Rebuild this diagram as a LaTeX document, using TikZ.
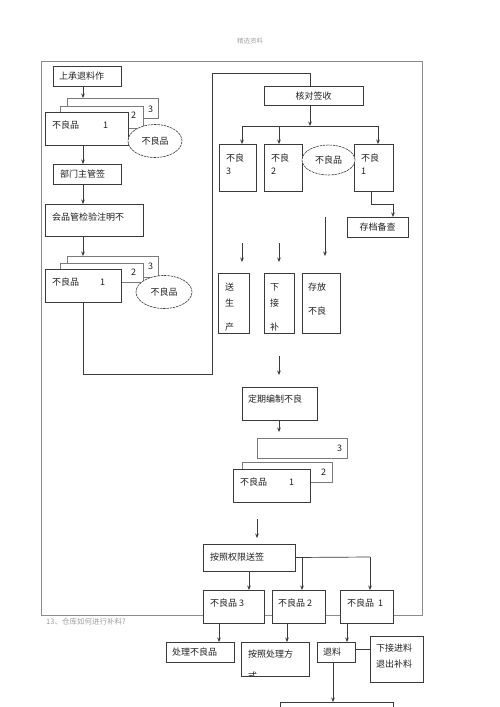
\documentclass[tikz,border=0pt]{standalone}
\usepackage{fontspec}
\newfontfamily\cjk{Noto Sans CJK SC}
\usetikzlibrary{arrows.meta,shapes.geometric}
\definecolor{ln}{HTML}{3A3A3A}
\definecolor{fr}{HTML}{8C8C8C}
\definecolor{lt}{HTML}{7A7A7A}
\definecolor{tx}{HTML}{202020}
\newcommand\bx[6][]{\node[box,#1,minimum width={(#5)-(#3)},minimum height={(#6)-(#4)}] (#2) at ({((#3)+(#5))/2},{((#4)+(#6))/2}) {};}
\tikzset{
  x=1pt,y=-1pt,
  box/.style={draw=ln,fill=white,line width=0.7pt,inner sep=0pt,outer sep=0pt,rectangle},
  backbox/.style={draw=lt,line width=0.6pt},
  oval/.style={ellipse,draw=ln,fill=white,line width=0.6pt,dash pattern=on 2.5pt off 0.8pt,inner sep=0pt,font=\cjk\fontsize{9}{11}\selectfont,text=tx},
  txt/.style={anchor=west,inner sep=0pt,font=\cjk\fontsize{9}{11}\selectfont,text=tx},
  conn/.style={draw=ln,line width=0.7pt},
  arr/.style={conn,-{Stealth[length=4.5pt,width=3.6pt]}},
  frame/.style={draw=fr,line width=0.8pt}
}
\begin{document}
\begin{tikzpicture}
\useasboundingbox (0,0) rectangle (500,707);
\fill[white] (0,0) rectangle (500,707);
% header
\node[inner sep=0pt,font=\cjk\fontsize{6.5}{8}\selectfont,text=gray!70] (hdr) at (250,41) {精选资料};
% outer frame
\draw[frame] (41,61) rectangle (422,615);
% named x positions
\coordinate (xL) at (83,0);
\coordinate (xR) at (310,0);
\coordinate (xa) at (242,0);
\coordinate (xb) at (279,0);
\coordinate (xc) at (378,0);
\coordinate (xF) at (393,0);
\coordinate (xd) at (249,0);
\coordinate (xe) at (302,0);
\coordinate (xg) at (219,0);
\coordinate (xh) at (287,0);
\coordinate (xi) at (347,0);
\coordinate (xj) at (333,0);
\coordinate (yk) at (0,649);
% ---------- left column ----------
\bx{A}{53}{66}{121}{86}
\node[txt] (tA) at (59,76) {上承退料作};
\bx[backbox]{s13}{67}{98}{158}{118}
\node[txt] (t13) at (148,109) {3};
\bx[backbox]{s12}{60}{106}{143}{128}
\node[txt] (t12) at (131,115) {2};
\bx{s11}{45}{112}{128}{145}
\node[txt] (t11a) at (52,125) {不良品};
\node[txt] (t11b) at (103,125) {1};
\node[oval,minimum width=54pt,minimum height=33pt] (e1) at (155,141) {不良品};
\bx{B}{53}{164}{121}{184}
\node[txt] (tB) at (60,174) {部门主管签};
\bx{C}{45}{204}{143}{236}
\node[txt] (tC) at (52,217) {会品管检验注明不};
\bx[backbox]{s23}{67}{256}{158}{277}
\node[txt] (t23) at (148,266) {3};
\bx[backbox]{s22}{60}{263}{143}{282}
\node[txt] (t22) at (131,272) {2};
\bx{s21}{45}{269}{121}{302}
\node[txt] (t21a) at (52,282) {不良品};
\node[txt] (t21b) at (100,282) {1};
\node[oval,minimum width=56pt,minimum height=33pt] (e2) at (164,292) {不良品};
\draw[arr] (A.south -| xL) -- (s13.north -| xL);
\draw[arr] (s11.south -| xL) -- (B.north -| xL);
\draw[arr] (B.south -| xL) -- (C.north -| xL);
\draw[arr] (C.south -| xL) -- (s23.north -| xL);
\coordinate (c1) at (212,374);
\coordinate (c2) at (212,73);
% ---------- right column top ----------
\bx{D}{264}{86}{363}{105}
\node[txt,anchor=center] (tD) at (313.5,96) {核对签收};
\draw[conn] (s21.south -| xL) |- (c1) -- (c2) -| (D.north -| xR);
\coordinate (b0) at (310,126);
\bx{E3}{219}{144}{256}{191}
\node[txt] (tE3a) at (226,158) {不良};
\node[txt] (tE3b) at (226,171) {3};
\bx{E2}{264}{144}{302}{191}
\node[txt] (tE2a) at (271,158) {不良};
\node[txt] (tE2b) at (271,171) {2};
\bx{E1}{354}{144}{393}{191}
\node[txt] (tE1a) at (361,158) {不良};
\node[txt] (tE1b) at (361,171) {1};
\node[oval,minimum width=53pt,minimum height=30pt] (e3) at (328.5,160) {不良品};
\draw[arr] (D.south -| xR) -- (b0);
\draw[conn] (b0 -| xa) -- (b0 -| xc);
\draw[arr] (b0 -| xa) -- (E3.north -| xa);
\draw[arr] (b0 -| xb) -- (E2.north -| xb);
\draw[arr] (b0 -| xc) -- (E1.north -| xc);
\bx{F}{347}{217}{408}{237}
\node[txt,anchor=center] (tF) at (377.5,227) {存档备查};
\coordinate (c3) at (371,204);
\draw[arr] (E1.south -| c3) -- (c3) -| (F.north -| xF);
% free arrows
\coordinate (f1s) at (242,243); \coordinate (f1e) at (242,262);
\coordinate (f2s) at (279,243); \coordinate (f2e) at (279,262);
\coordinate (f3s) at (325,217); \coordinate (f3e) at (325,256);
\draw[arr] (f1s) -- (f1e);
\draw[arr] (f2s) -- (f2e);
\draw[arr] (f3s) -- (f3e);
\bx{G1}{218}{273}{249}{333}
\node[txt] (tG1a) at (225,287) {送};
\node[txt] (tG1b) at (225,303) {生};
\node[txt] (tG1c) at (225,327) {产};
\bx{G2}{264}{273}{294}{333}
\node[txt] (tG2a) at (270,287) {下};
\node[txt] (tG2b) at (270,303) {接};
\node[txt] (tG2c) at (270,327) {补};
\bx{G3}{302}{273}{340}{333}
\node[txt] (tG3a) at (308,287) {存放};
\node[txt] (tG3b) at (308,311) {不良};
\coordinate (f4s) at (279,356); \coordinate (f4e) at (279,375);
\draw[arr] (f4s) -- (f4e);
\bx{H}{242}{387}{317}{420}
\node[txt] (tH) at (248,399) {定期编制不良};
\coordinate (f5e) at (279,432);
\draw[arr] (H.south -| xb) -- (f5e);
\bx[backbox]{s33}{257}{438}{347}{458}
\node[txt] (t33) at (337,448) {3};
\bx[backbox]{s32}{242}{462}{332}{482}
\node[txt] (t32) at (321,472) {2};
\bx{s31}{233}{469}{310}{502}
\node[txt] (t31a) at (240,482) {不良品};
\node[txt] (t31b) at (289,482) {1};
\coordinate (f6s) at (257,519); \coordinate (f6e) at (257,538);
\draw[arr] (f6s) -- (f6e);
\bx{I}{203}{544}{295}{571}
\node[txt] (tI) at (210,557) {按照权限送签};
\bx{J3}{203}{590}{264}{623}
\node[txt] (tJ3) at (210,603) {不良品 3};
\bx{J2}{272}{590}{325}{623}
\node[txt] (tJ2) at (278,603) {不良品 2};
\bx{J1}{340}{590}{393}{623}
\node[txt] (tJ1) at (347,603) {不良品\hspace{4pt}1};
\coordinate (c4) at (370,557);
\draw[arr] (I.south -| xd) -- (J3.north -| xd);
\draw[conn] (I.east) -- (c4);
\draw[arr] (I.east -| xe) -- (J2.north -| xe);
\draw[arr] (c4) -- (J1.north -| c4);
\node[anchor=west,inner sep=0pt,font=\cjk\fontsize{7.5}{9}\selectfont,text=gray!75] (q13) at (46,622) {13、仓库如何进行补料?};
% ---------- bottom row ----------
\bx{K1}{166}{642}{234}{662}
\node[txt] (tK1) at (172,652) {处理不良品};
\bx{K2}{241}{642}{309}{676}
\node[txt] (tK2) at (248,654) {按照处理方};
\begin{scope}
\clip (241,642) rectangle (309,675.5);
\node[txt] (tK2b) at (248,676.5) {式};
\end{scope}
\bx{K3}{317}{642}{355}{662}
\node[txt] (tK3) at (323,652) {退料};
\bx{K4}{370}{636}{423}{682}
\node[txt] (tK4a) at (376,648) {下接进料};
\node[txt] (tK4b) at (376,664) {退出补料};
\draw[arr] (J3.south -| xg) -- (K1.north -| xg);
\draw[arr] (J2.south -| xh) -- (K2.north -| xh);
\draw[arr] (J1.south -| xi) -- (K3.north -| xi);
\draw[conn] (K3.east |- yk) -- (K4.west |- yk);
\bx{L}{280}{702}{393}{740}
\draw[arr] (K3.south -| xj) -- (L.north -| xj);
\end{tikzpicture}
\end{document}
